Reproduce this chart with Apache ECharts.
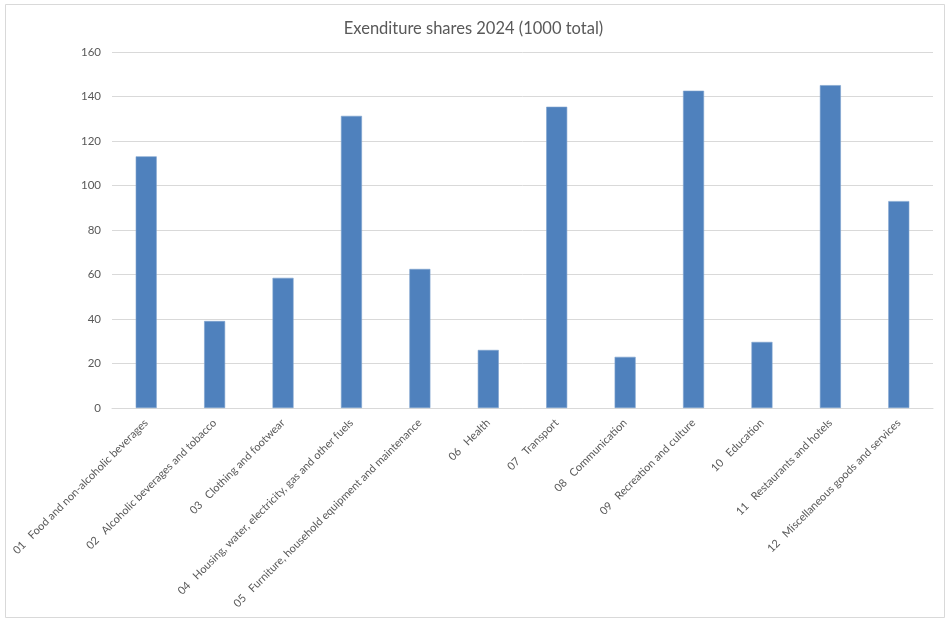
<!DOCTYPE html>
<html><head><meta charset="utf-8">
<script src="https://cdn.jsdelivr.net/npm/echarts@6/dist/echarts.min.js"></script>
<style>html,body{margin:0;padding:0;background:#fff}#c{width:947px;height:619px}</style>
</head><body><div id="c"></div>
<script>
const categories = [
  "01   Food and non-alcoholic beverages",
  "02   Alcoholic beverages and tobacco",
  "03   Clothing and footwear",
  "04   Housing, water, electricity, gas and other fuels",
  "05   Furniture, household equipment and maintenance",
  "06   Health",
  "07   Transport",
  "08   Communication",
  "09   Recreation and culture",
  "10   Education",
  "11   Restaurants and hotels",
  "12   Miscellaneous goods and services"
];
const values = [113.1, 39.1, 58.5, 131.3, 62.5, 26.1, 135.4, 23.0, 142.6, 29.7, 145.1, 93.0];
const titleText = "Exenditure shares 2024 (1000 total)";

const FONT = 'Lato, "Liberation Sans", sans-serif';
const chart = echarts.init(document.getElementById('c'));
chart.setOption({
  animation: false,
  backgroundColor: '#fff',
  title: {
    text: titleText, left: 'center', top: 15,
    textStyle: {fontFamily: FONT, fontSize: 16.5, fontWeight: 'normal', color: '#595959'}
  },
  graphic: [{
    type: 'rect', shape: {x: 5.5, y: 4.5, width: 939, height: 613},
    style: {fill: 'none', stroke: '#d9d9d9', lineWidth: 1}, silent: true, z: -1
  }],
  grid: {left: 112, right: 14, top: 52, bottom: 211, containLabel: false, outerBoundsMode: 'none'},
  xAxis: {
    type: 'category', data: categories,
    axisLine: {lineStyle: {color: '#d9d9d9'}},
    axisTick: {show: false},
    axisLabel: {rotate: 45, interval: 0, margin: 13, fontFamily: FONT, fontSize: 11, color: '#595959'}
  },
  yAxis: {
    type: 'value', min: 0, max: 160, interval: 20,
    axisLine: {show: false}, axisTick: {show: false},
    splitLine: {lineStyle: {color: '#d9d9d9'}},
    axisLabel: {margin: 11, fontFamily: FONT, fontSize: 11.5, color: '#595959'}
  },
  series: [{
    type: 'bar', data: values, barWidth: 21,
    itemStyle: {color: '#4f81bd', borderColor: '#7ea2cf', borderWidth: 0.6}
  }]
});
</script></body></html>
